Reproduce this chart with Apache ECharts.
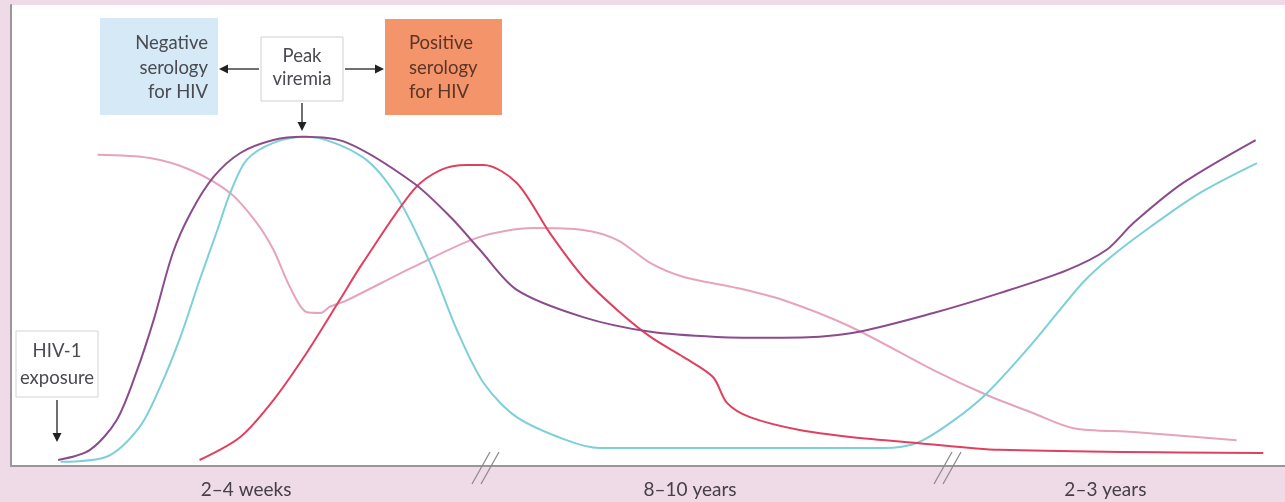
<!DOCTYPE html>
<html lang="en">
<head>
  <meta charset="utf-8">
  <title>HIV infection course</title>
  <style>
    html, body { margin: 0; padding: 0; background: #efdbe7; }
    #chart { width: 1285px; height: 502px; }
  </style>
</head>
<body>
<script src="https://cdn.jsdelivr.net/npm/echarts@6/dist/echarts.min.js"></script>
<div id="chart"></div>
<script>
  // curves, x and y both on a 0-100 scale
  var purple = [[3.7,1.3],[6.2,3.5],[8.3,10.0],[9.9,20.8],[11.2,31.7],[12.7,46.2],[14.1,54.9],[15.9,62.7],[18.0,67.9],[20.6,70.7],[22.9,71.4],[26.4,70.1],[31.6,61.4],[34.5,54.0],[36.8,46.9],[39.7,38.2],[44.9,32.3],[50.2,29.1],[55.4,28.0],[60.6,27.8],[65.9,28.8],[72.4,33.2],[77.6,37.5],[82.9,42.5],[86.0,46.9],[88.1,52.7],[92.0,61.4],[97.7,70.7]];
  var cyan = [[3.9,0.9],[7.5,2.0],[10.1,8.5],[11.7,17.1],[13.3,28.0],[14.8,40.3],[16.2,51.2],[17.2,59.2],[18.5,66.4],[20.6,70.1],[23.2,71.4],[27.6,67.0],[30.3,58.4],[32.9,44.0],[35.0,29.5],[37.1,18.0],[39.7,10.6],[43.6,5.6],[46.2,3.9],[68.5,3.9],[71.1,5.0],[73.7,9.3],[76.6,15.8],[80.2,26.7],[84.1,39.7],[86.3,45.3],[89.4,51.8],[93.3,59.2],[97.8,65.7]];
  var crimson = [[14.8,1.3],[18.0,6.3],[20.6,14.3],[23.2,24.5],[25.8,36.0],[27.6,44.0],[31.6,59.9],[33.7,64.2],[35.8,65.3],[37.1,65.3],[39.7,61.4],[42.3,50.5],[44.9,41.0],[47.6,33.8],[50.2,28.0],[52.8,23.6],[55.1,19.3],[56.2,13.7],[58.0,10.6],[61.9,7.8],[65.9,6.3],[71.1,5.0],[77.6,3.5],[98.3,2.8]];
  var pink = [[6.8,67.5],[10.9,66.8],[14.1,64.2],[17.2,59.2],[19.3,52.7],[20.6,46.9],[21.9,38.8],[23.2,33.4],[24.3,33.2],[25.0,34.5],[26.4,36.0],[31.6,43.2],[36.8,49.7],[41.0,51.6],[44.9,51.2],[47.6,49.0],[50.2,44.0],[52.8,41.0],[56.7,38.8],[60.6,36.0],[65.9,30.2],[72.4,20.8],[76.6,15.4],[80.2,11.5],[83.4,8.2],[88.1,7.4],[96.2,5.6]];

  var periodPos = [18.45, 53.3, 85.9];
  var periodNames = ['2\u20134 weeks', '8\u201310 years', '2\u20133 years'];

  var chart = echarts.init(document.getElementById('chart'));

  var txt = '#4a4a50';
  var font = '18.5px Lato';

  function arrow(x1, y1, x2, y2) {
    // shaft + triangle head pointing at x2,y2
    var dx = x2 - x1, dy = y2 - y1, len = Math.sqrt(dx * dx + dy * dy);
    var ux = dx / len, uy = dy / len, h = 9, w = 4.5;
    return [
      { type: 'line', shape: { x1: x1, y1: y1, x2: x2 - ux * h, y2: y2 - uy * h }, style: { stroke: '#222', lineWidth: 1.3 } },
      { type: 'polygon', shape: { points: [[x2, y2], [x2 - ux * h - uy * w, y2 - uy * h + ux * w], [x2 - ux * h + uy * w, y2 - uy * h - ux * w]] }, style: { fill: '#222' } }
    ];
  }

  function breakMark(x) {
    return [
      { type: 'line', shape: { x1: x - 12, y1: 484, x2: x + 6, y2: 452 }, style: { stroke: '#8a8a8a', lineWidth: 1.3 }, z: 10 },
      { type: 'line', shape: { x1: x - 3, y1: 484, x2: x + 15, y2: 452 }, style: { stroke: '#8a8a8a', lineWidth: 1.3 }, z: 10 }
    ];
  }

  var graphics = [
    // negative serology
    { type: 'rect', shape: { x: 100, y: 18, width: 118, height: 97 }, style: { fill: '#d5e9f6' } },
    { type: 'text', style: { text: 'Negative\nserology\nfor HIV', x: 208, y: 31, font: font, fill: txt, align: 'right', lineHeight: 24.5 } },
    // peak viremia
    { type: 'rect', shape: { x: 261, y: 37, width: 82, height: 64 }, style: { fill: '#fff', stroke: '#cfcfcf', lineWidth: 1 } },
    { type: 'text', style: { text: 'Peak\nviremia', x: 302, y: 45, font: font, fill: txt, align: 'center', lineHeight: 23 } },
    // positive serology
    { type: 'rect', shape: { x: 385, y: 19, width: 117, height: 96 }, style: { fill: '#f4946a' } },
    { type: 'text', style: { text: 'Positive\nserology\nfor HIV', x: 409, y: 31, font: font, fill: '#5b3526', align: 'left', lineHeight: 24.5 } },
    // exposure
    { type: 'rect', shape: { x: 16, y: 331, width: 82, height: 66 }, style: { fill: '#fff', stroke: '#d4d4d4', lineWidth: 1 } },
    { type: 'text', style: { text: 'HIV-1\nexposure', x: 57, y: 338, font: font, fill: txt, align: 'center', lineHeight: 27 } }
  ];
  graphics = graphics
    .concat(arrow(259, 69, 219, 69))
    .concat(arrow(345, 69, 384, 69))
    .concat(arrow(302, 103, 302, 131))
    .concat(arrow(57, 400, 57, 442))
    .concat(breakMark(484))
    .concat(breakMark(946));

  function lineSeries(name, data, color) {
    return {
      name: name,
      type: 'line',
      data: data,
      smooth: 0.3,
      showSymbol: false,
      lineStyle: { color: color, width: 2 },
      itemStyle: { color: color }
    };
  }

  var option = {
    backgroundColor: '#efdbe7',
    animation: false,
    grid: { left: 11, right: 0, top: 5, bottom: 36, show: true, backgroundColor: '#fff', borderWidth: 0 },
    xAxis: {
      type: 'value', min: 0, max: 100,
      axisLine: { show: true, lineStyle: { color: '#9c9496', width: 2 } },
      axisTick: { show: false },
      splitLine: { show: false },
      axisLabel: {
        customValues: periodPos,
        margin: 14,
        fontFamily: 'Lato', fontSize: 19, color: '#454045',
        formatter: function (v) {
          var i = periodPos.indexOf(v);
          return i >= 0 ? periodNames[i] : '';
        }
      }
    },
    yAxis: {
      type: 'value', min: 0, max: 100,
      axisLine: { show: true, lineStyle: { color: '#9c9496', width: 2 } },
      axisTick: { show: false },
      axisLabel: { show: false },
      splitLine: { show: false }
    },
    series: [
      lineSeries('light', pink, '#e7a3be'),
      lineSeries('cyan', cyan, '#7dd0d7'),
      lineSeries('crimson', crimson, '#e0405f'),
      lineSeries('purple', purple, '#8b4b8c')
    ],
    graphic: graphics
  };
  chart.setOption(option);
</script>
</body>
</html>
